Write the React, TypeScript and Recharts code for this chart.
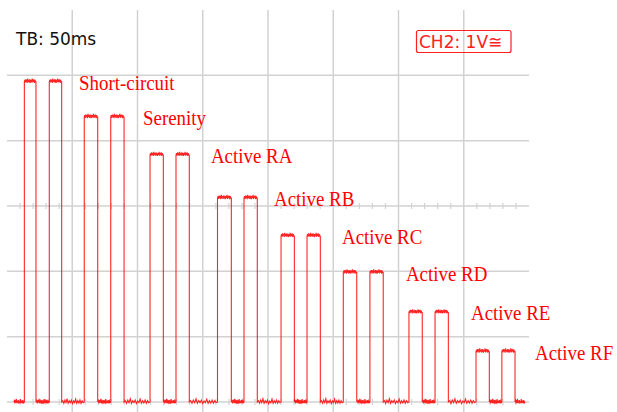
import { LineChart, Line, XAxis, YAxis, ReferenceLine, ReferenceDot } from "recharts";

// scope settings: 50 ms/div horizontally, 1 V/div vertically
const timeTicks = [50, 100, 150, 200, 250, 300, 350];
const voltTicks = [0, 1, 2, 3, 4, 5];

// pulse edges (ms)
const riseTimes = [13.3, 32.4, 59.2, 79.5, 109.6, 129.5, 161.3, 181.6, 210.0, 229.9, 257.7, 278.1, 308.0, 328.0, 359.4, 379.2];
const fallTimes = [22.2, 41.9, 69.5, 89.7, 119.8, 139.7, 171.9, 191.8, 220.2, 240.1, 268.0, 288.3, 318.2, 338.2, 369.6, 389.3];

// one level per pulse pair (V)
const stepNames = ["Short-circuit", "Serenity", "Active RA", "Active RB", "Active RC", "Active RD", "Active RE", "Active RF"];
const stepLevels = [4.9, 4.36, 3.78, 3.12, 2.54, 1.98, 1.37, 0.77];
const labelTimes = [55.2, 104.2, 156.3, 204.6, 256.7, 305.7, 355.6, 404.6];

const traceStart = 5.2;
const traceEnd = 397;

// hand-read wobble on the flat parts of the trace (V)
const topRipple = [
  0.03, -0.01, 0.04, 0.0, 0.035, -0.015, 0.05, 0.0, 0.03, -0.01, 0.04, 0.01,
  0.035, -0.015, 0.03, 0.0, 0.05, -0.01, 0.035, 0.0, 0.04, -0.015, 0.03, 0.0,
];
const floorRipple = [
  0.02, -0.02, 0.03, -0.01, 0.05, -0.02, 0.02, -0.01, 0.03, -0.025,
  0.015, -0.01, 0.045, -0.02, 0.02, -0.015, 0.03, -0.02, 0.02, -0.01,
];

type Pt = { t: number; v: number };

const addRipple = (pts: Pt[], a: number, b: number, base: number, ripple: number[]) => {
  ripple.forEach((d, k) => {
    pts.push({ t: a + ((b - a) * (k + 1)) / (ripple.length + 1), v: base + d });
  });
};

const trace: Pt[] = [];
let prev = traceStart;
riseTimes.forEach((rise, i) => {
  const fall = fallTimes[i];
  const level = stepLevels[Math.floor(i / 2)];
  trace.push({ t: prev, v: 0 });
  addRipple(trace, prev, rise, 0, floorRipple);
  trace.push({ t: rise, v: 0 });
  trace.push({ t: rise, v: level });
  addRipple(trace, rise, fall, level, topRipple);
  trace.push({ t: fall, v: level });
  trace.push({ t: fall, v: 0 });
  prev = fall;
});
addRipple(trace, prev, traceEnd, 0, floorRipple);
trace.push({ t: traceEnd, v: 0 });

const minorTicks: number[] = [];
for (let t = 10; t < 400; t += 10) if (t % 50 !== 0) minorTicks.push(t);

const gridColor = "#d2d2d2";
const red = "#ff0000";

export default function App() {
  return (
    <div style={{ position: "absolute", left: 0, top: 0, width: 617, height: 412, background: "#fff" }}>
      <LineChart width={617} height={412} data={trace} margin={{ top: 10, right: 88, left: 7, bottom: 0 }}>
        <XAxis dataKey="t" type="number" domain={[0, 400]} ticks={timeTicks} allowDataOverflow hide />
        <YAxis type="number" domain={[-0.153, 6]} ticks={voltTicks} allowDataOverflow hide />
        {timeTicks.map((t) => (
          <ReferenceLine key={"vx" + t} x={t} stroke={gridColor} strokeWidth={1.5} />
        ))}
        {voltTicks.map((v) => (
          <ReferenceLine key={"hy" + v} y={v} stroke={gridColor} strokeWidth={1.5} />
        ))}
        {minorTicks.map((t) => (
          <ReferenceLine
            key={"m3" + t}
            segment={[{ x: t, y: 2.955 }, { x: t, y: 3.045 }]}
            stroke={gridColor}
            strokeWidth={1.2}
          />
        ))}
        {minorTicks.map((t) => (
          <ReferenceLine
            key={"m0" + t}
            segment={[{ x: t, y: -0.045 }, { x: t, y: 0.045 }]}
            stroke={gridColor}
            strokeWidth={1.2}
          />
        ))}
        <Line
          dataKey="v"
          type="linear"
          stroke={red}
          strokeWidth={1.1}
          strokeOpacity={0.85}
          dot={false}
          isAnimationActive={false}
        />
        {stepNames.map((name, i) => (
          <ReferenceDot
            key={name}
            x={labelTimes[i]}
            y={stepLevels[i]}
            r={0}
            ifOverflow="visible"
            shape={(p: any) => (
              <text
                transform={`translate(${p.cx},${p.cy + 8}) scale(0.86,1)`}
                fill="#ff0000"
                fontFamily="'Liberation Serif', serif"
                fontSize={22}
              >
                {name}
              </text>
            )}
          />
        ))}
      </LineChart>
      <svg width={617} height={412} style={{ position: "absolute", left: 0, top: 0, pointerEvents: "none" }}>
        <text x={16} y={45} fill="#111" fontFamily="'DejaVu Sans', sans-serif" fontSize={17}>
          TB: 50ms
        </text>
        <rect x={416.5} y={30.5} width={94.5} height={22} rx={2} fill="none" stroke="#ff2020" strokeWidth={1.2} />
        <text x={419} y={47.5} fill="#ff2020" fontFamily="'DejaVu Sans', sans-serif" fontSize={17}>
          CH2: 1V≅
        </text>
      </svg>
    </div>
  );
}
